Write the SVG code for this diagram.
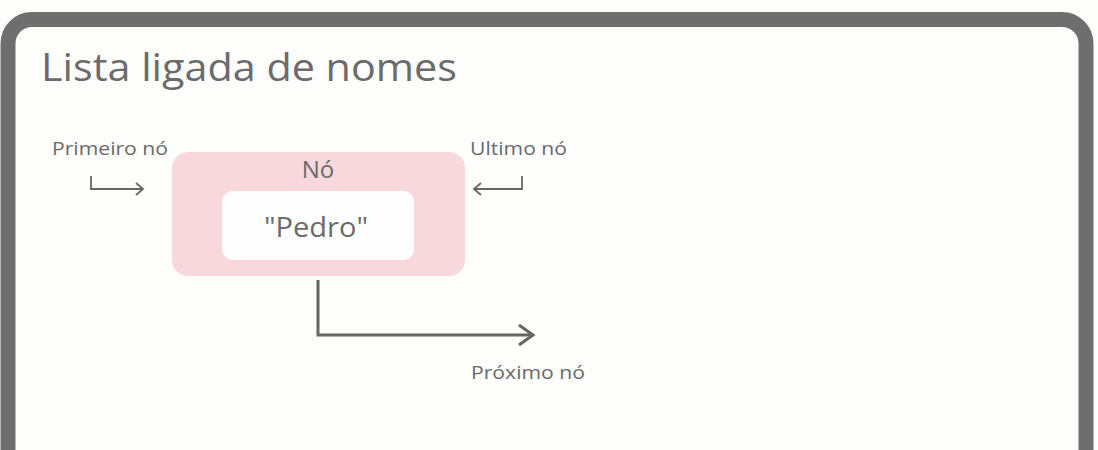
<svg xmlns="http://www.w3.org/2000/svg" width="1098" height="450" viewBox="0 0 1098 450">
<style>
text{font-family:"Open Sans","Noto Sans","Liberation Sans",sans-serif;fill:#6b6b6b}
.conn{fill:none;stroke:#666;stroke-linecap:butt;stroke-linejoin:miter}
</style>
<rect x="0" y="0" width="1098" height="450" fill="#fdfdfb"/>
<rect id="frame" x="8" y="19.5" width="1078" height="460" rx="24" fill="#fdfdfb" stroke="#6e6e6e" stroke-width="15"/>
<text id="title" x="41" y="81" font-size="39" textLength="416" lengthAdjust="spacingAndGlyphs">Lista ligada de nomes</text>
<g id="node">
<rect x="172" y="152" width="293" height="124" rx="16" fill="#f8d8dc"/>
<text x="318" y="178" font-size="24" text-anchor="middle">Nó</text>
<rect x="222" y="191" width="192" height="69" rx="11" fill="#fefefe"/>
<text x="316" y="237" font-size="27" text-anchor="middle" textLength="104" lengthAdjust="spacingAndGlyphs">"Pedro"</text>
</g>
<g id="primeiro">
<text x="52" y="155" font-size="18" textLength="116" lengthAdjust="spacingAndGlyphs">Primeiro nó</text>
</g>
<g id="ultimo">
<text x="470" y="155" font-size="18" textLength="97" lengthAdjust="spacingAndGlyphs">Ultimo nó</text>
</g>
<g id="proximo">
<text x="471" y="379" font-size="18" textLength="114" lengthAdjust="spacingAndGlyphs">Próximo nó</text>
</g>
<g id="connectors">
<path class="conn" d="M91,176 V189 H143" stroke-width="1.8"/>
<path class="conn" d="M136,183 L143,189 L136,195" stroke-width="1.8"/>
<path class="conn" d="M522,176 V189 H474" stroke-width="1.8"/>
<path class="conn" d="M481,183 L474,189 L481,195" stroke-width="1.8"/>
<path class="conn" d="M318,280 V335 H533" stroke-width="3"/>
<path class="conn" d="M519,325 L533,335 L519,345" stroke-width="3"/>
</g>
</svg>
